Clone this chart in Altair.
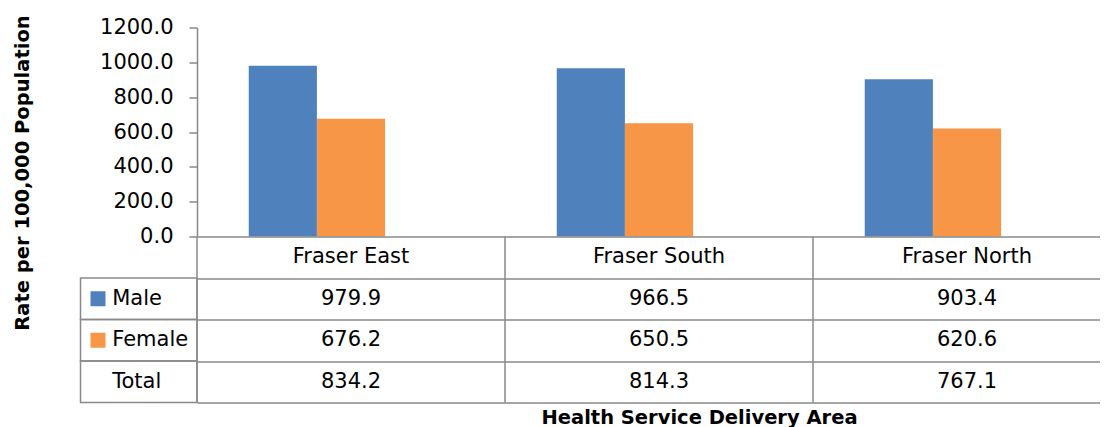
import altair as alt
import pandas as pd

# ---- data ----
areas = ["Fraser East", "Fraser South", "Fraser North"]
male = [979.9, 966.5, 903.4]
female = [676.2, 650.5, 620.6]
total = [834.2, 814.3, 767.1]
series = ["Male", "Female", "Total"]
y_ticks = [0, 200, 400, 600, 800, 1000, 1200]

BLUE = "#4F81BD"
ORANGE = "#F79646"
GRAY = "#898989"
FONT = "DejaVu Sans"

bar_df = pd.DataFrame({
    "area": areas * 2,
    "sex": ["Male"] * 3 + ["Female"] * 3,
    "value": male + female,
})

rows = ["hdr", "Male", "Female", "Total"]
recs = []
for i, a in enumerate(areas):
    recs.append({"area": a, "row": "hdr", "label": a})
    for name, vals in zip(series, [male, female, total]):
        recs.append({"area": a, "row": name, "label": f"{vals[i]:.1f}"})
table_df = pd.DataFrame(recs)
area_df = pd.DataFrame({"area": areas})
lab_df = pd.DataFrame({"col": ["lbl"] * 3, "row": series, "sex": series})

W = 903
H_BAR = 209
H_TAB = 166
X_RANGE = [0, 924]
STEP = 308

color_scale = alt.Scale(domain=["Male", "Female"], range=[BLUE, ORANGE])

bars = alt.Chart(bar_df).mark_bar().encode(
    x=alt.X("area:N", sort=areas, axis=None,
            scale=alt.Scale(domain=areas, range=X_RANGE,
                            paddingInner=0.336, paddingOuter=0.168)),
    xOffset=alt.XOffset("sex:N", sort=series,
                        scale=alt.Scale(domain=series, paddingInner=0, paddingOuter=0)),
    y=alt.Y("value:Q",
            scale=alt.Scale(domain=[0, 1200], nice=False),
            axis=alt.Axis(values=y_ticks, format=".1f", grid=False,
                          domainColor=GRAY, domainWidth=1.5,
                          tickColor=GRAY, tickWidth=1.5, tickSize=8,
                          labelFont=FONT, labelFontSize=21, labelColor="black",
                          labelPadding=16,
                          title="Rate per 100,000 Population",
                          titleFont=FONT, titleFontSize=19.5, titleFontWeight="bold",
                          titleColor="black", titleAngle=270,
                          titleX=-175, titleY=145,
                          titleAlign="center", titleBaseline="middle")),
    color=alt.Color("sex:N", scale=color_scale, legend=None),
).properties(width=W, height=H_BAR)

# table: horizontal lines come from the row axis grid, vertical ones from rules
ys = alt.Y("row:N", sort=rows,
           scale=alt.Scale(domain=rows, paddingInner=0, paddingOuter=0),
           axis=alt.Axis(grid=True, tickBand="extent", gridColor=GRAY, gridWidth=1.5,
                         labels=False, ticks=False, domain=False, title=""))

main_scale = alt.Scale(domain=areas, range=X_RANGE, paddingInner=0, paddingOuter=0)
x_main = alt.X("area:N", sort=areas, scale=main_scale, axis=None)

vlines = alt.Chart(area_df).mark_rule(
    color=GRAY, strokeWidth=1.5, xOffset=-STEP / 2
).encode(x=x_main)

text_main = alt.Chart(table_df).mark_text(
    font=FONT, fontSize=21, color="black", baseline="middle"
).encode(x=x_main, y=ys, text="label:N")

lab_scale = alt.Scale(domain=["lbl"], range=[-116.5, 0], paddingInner=0, paddingOuter=0)
x_lab = alt.X("col:N", scale=lab_scale, axis=None)

rect_lab = alt.Chart(lab_df).mark_rect(
    fill="transparent", stroke=GRAY, strokeWidth=1.5
).encode(x=x_lab, y=ys)

text_lab = alt.Chart(lab_df).mark_text(
    font=FONT, fontSize=21, color="black", align="left", baseline="middle", dx=-26.5
).encode(x=x_lab, y=ys, text="row:N")

sq_lab = alt.Chart(lab_df).transform_filter(
    alt.datum.sex != "Total"
).mark_point(shape="square", filled=True, size=225, opacity=1, xOffset=-40.75).encode(
    x=x_lab,
    y=ys,
    color=alt.Color("sex:N", scale=color_scale, legend=None),
)

table = alt.layer(vlines, text_main, rect_lab, text_lab, sq_lab).resolve_scale(
    x="independent"
).properties(
    width=W, height=H_TAB,
    title=alt.TitleParams(text="Health Service Delivery Area", orient="bottom",
                          anchor="middle", frame="group", dx=51, offset=6,
                          baseline="top", font=FONT, fontSize=19.5,
                          fontWeight="bold", color="black"),
)

chart = alt.vconcat(
    bars, table, spacing=0, bounds="flush",
    padding={"top": 6.5, "left": 4, "right": 0, "bottom": 0},
).configure(font=FONT, view=alt.ViewConfig(strokeWidth=0))

chart.save("out.html", embed_options={"renderer": "svg", "actions": False})
